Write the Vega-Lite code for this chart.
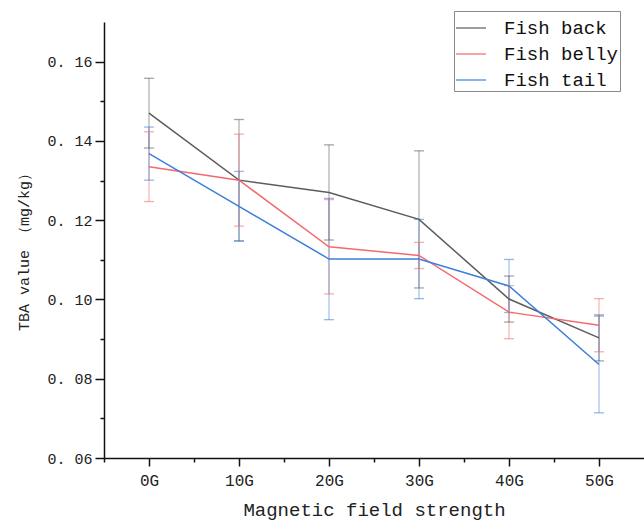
{
  "$schema": "https://vega.github.io/schema/vega-lite/v6.json",
  "width": 540,
  "height": 436,
  "autosize": "none",
  "padding": {"left": 104, "top": 22, "right": 0, "bottom": 63},
  "background": "white",
  "config": {
    "font": "Liberation Mono",
    "view": {"stroke": null},
    "axis": {"grid": false, "domainColor": "#111", "domainWidth": 1.5, "tickColor": "#111", "tickWidth": 1.5, "labelColor": "#222", "titleColor": "#222", "titleFontWeight": "normal"}
  },
  "data": {
    "values": [
      {"part": "Fish back", "G": 0, "mean": 0.1470, "lo": 0.1382, "hi": 0.1558},
      {"part": "Fish back", "G": 10, "mean": 0.1301, "lo": 0.1148, "hi": 0.1454},
      {"part": "Fish back", "G": 20, "mean": 0.1270, "lo": 0.1150, "hi": 0.1390},
      {"part": "Fish back", "G": 30, "mean": 0.1202, "lo": 0.1029, "hi": 0.1375},
      {"part": "Fish back", "G": 40, "mean": 0.1001, "lo": 0.0943, "hi": 0.1059},
      {"part": "Fish back", "G": 50, "mean": 0.0903, "lo": 0.0845, "hi": 0.0961},
      {"part": "Fish belly", "G": 0, "mean": 0.1335, "lo": 0.1247, "hi": 0.1423},
      {"part": "Fish belly", "G": 10, "mean": 0.1301, "lo": 0.1185, "hi": 0.1417},
      {"part": "Fish belly", "G": 20, "mean": 0.1133, "lo": 0.1014, "hi": 0.1252},
      {"part": "Fish belly", "G": 30, "mean": 0.1111, "lo": 0.1078, "hi": 0.1144},
      {"part": "Fish belly", "G": 40, "mean": 0.0968, "lo": 0.0901, "hi": 0.1035},
      {"part": "Fish belly", "G": 50, "mean": 0.0935, "lo": 0.0868, "hi": 0.1002},
      {"part": "Fish tail", "G": 0, "mean": 0.1368, "lo": 0.1301, "hi": 0.1435},
      {"part": "Fish tail", "G": 10, "mean": 0.1235, "lo": 0.1147, "hi": 0.1323},
      {"part": "Fish tail", "G": 20, "mean": 0.1102, "lo": 0.0949, "hi": 0.1255},
      {"part": "Fish tail", "G": 30, "mean": 0.1102, "lo": 0.1002, "hi": 0.1202},
      {"part": "Fish tail", "G": 40, "mean": 0.1034, "lo": 0.0967, "hi": 0.1101},
      {"part": "Fish tail", "G": 50, "mean": 0.0836, "lo": 0.0714, "hi": 0.0958}
    ]
  },
  "encoding": {
    "x": {
      "field": "G", "type": "quantitative",
      "scale": {"domain": [-5, 55], "nice": false, "zero": false},
      "axis": {
        "title": "Magnetic field strength",
        "titleFontSize": 19, "titlePadding": 12,
        "values": [-5, 0, 5, 10, 15, 20, 25, 30, 35, 40, 45, 50],
        "labelExpr": "datum.value % 10 === 0 && datum.value >= 0 ? datum.value + 'G' : ''",
        "labelFontSize": 16, "labelPadding": 6, "labelOverlap": false,
        "tickSize": {"condition": {"test": "datum.value % 10 === 0 && datum.value >= 0", "value": 8}, "value": 4}
      }
    },
    "color": {
      "field": "part", "type": "nominal",
      "scale": {"domain": ["Fish back", "Fish belly", "Fish tail"], "range": ["#5c5c5c", "#f26a6c", "#3d7fda"]},
      "legend": {
        "title": null, "orient": "none", "legendX": 350, "legendY": -11,
        "symbolType": "stroke", "symbolSize": 900, "symbolStrokeWidth": 1.5, "symbolOpacity": 0.8,
        "labelFontSize": 19, "labelColor": "#111", "labelOffset": 17,
        "strokeColor": "#888", "fillColor": "white", "padding": 1, "rowPadding": 0
      }
    }
  },
  "layer": [
    {
      "mark": {"type": "rule", "strokeWidth": 1.2, "opacity": 0.5},
      "encoding": {
        "y": {"field": "lo", "type": "quantitative"},
        "y2": {"field": "hi"}
      }
    },
    {
      "mark": {"type": "tick", "orient": "horizontal", "size": 10, "thickness": 1.3, "opacity": 0.55},
      "encoding": {"y": {"field": "lo", "type": "quantitative"}}
    },
    {
      "mark": {"type": "tick", "orient": "horizontal", "size": 10, "thickness": 1.3, "opacity": 0.55},
      "encoding": {"y": {"field": "hi", "type": "quantitative"}}
    },
    {
      "mark": {"type": "line", "strokeWidth": 1.5},
      "encoding": {
        "y": {
          "field": "mean", "type": "quantitative",
          "scale": {"domain": [0.06, 0.17], "nice": false, "zero": false},
          "axis": {
            "title": "TBA value （mg/kg）",
            "titleFontSize": 15, "titleAngle": -90, "titleX": -81, "titleY": 226, "titleAlign": "center", "titleBaseline": "middle",
            "values": [0.06, 0.07, 0.08, 0.09, 0.1, 0.11, 0.12, 0.13, 0.14, 0.15, 0.16],
            "labelExpr": "round(datum.value * 100) % 2 === 0 ? replace(format(datum.value, '.2f'), '.', '. ') : ''",
            "labelFontSize": 15, "labelPadding": 3, "labelOverlap": false,
            "tickSize": {"condition": {"test": "round(datum.value * 100) % 2 === 0", "value": 9}, "value": 4}
          }
        }
      }
    }
  ]
}
